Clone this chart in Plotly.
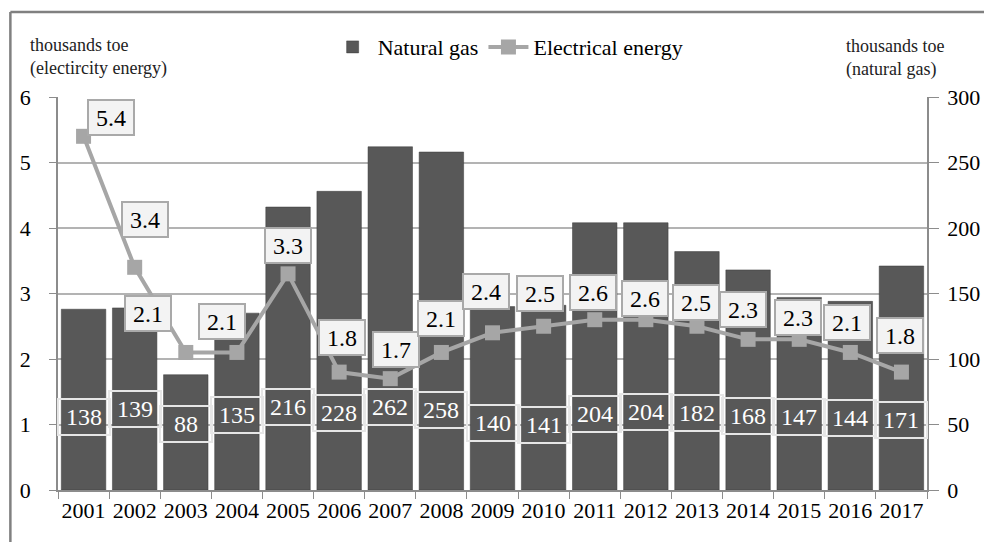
import plotly.graph_objects as go

years = [str(y) for y in range(2001, 2018)]
natural_gas = [138, 139, 88, 135, 216, 228, 262, 258, 140, 141, 204, 204, 182, 168, 147, 144, 171]
electrical = [5.4, 3.4, 2.1, 2.1, 3.3, 1.8, 1.7, 2.1, 2.4, 2.5, 2.6, 2.6, 2.5, 2.3, 2.3, 2.1, 1.8]

# label placement offsets (pixels) - style only
line_lbl_dx = [27, 10, -38, -15, 0, 3, 6, 0, -7, -4, -2, -1, -1, -5, -1, -3, -1]
line_lbl_dy = [19, 48, 39, 31, 28, 35, 29, 34, 41, 33, 27, 21, 24, 30, 22, 30, 37]
bar_lbl_dy = [-2, 6, -9, 0, 8, 2, 8, 5, -8, -10, 1, 3, 2, -1, -2, -3, -5]
BAR_LABEL_LEVEL = 57

FONT = "Liberation Serif"
GRAY = "#a6a6a6"
AXIS = "#8c8c8c"

fig = go.Figure()
fig.add_trace(go.Bar(
    x=years, y=natural_gas, name="Natural gas", yaxis="y",
    marker=dict(color="#585858", line=dict(color="#3a3a3a", width=0.5)),
))
fig.add_trace(go.Scatter(
    x=years, y=electrical, name="Electrical energy", yaxis="y2",
    mode="lines+markers",
    line=dict(color=GRAY, width=4),
    marker=dict(symbol="square", size=15, color=GRAY),
))

annotations = []
for i, v in enumerate(electrical):
    annotations.append(dict(
        x=i, y=v, xref="x", yref="y2", text=f"{v:.1f}",
        showarrow=False, xshift=line_lbl_dx[i], yshift=line_lbl_dy[i],
        font=dict(family=FONT, size=24, color="black"),
        bgcolor="#f3f3f3", bordercolor="#a9a9a9", borderwidth=2,
        width=42, height=31, borderpad=1,
    ))
for i, v in enumerate(natural_gas):
    annotations.append(dict(
        x=i, y=BAR_LABEL_LEVEL, xref="x", yref="y", text=str(v),
        showarrow=False, yshift=bar_lbl_dy[i],
        font=dict(family=FONT, size=24, color="white"),
        bgcolor="rgba(0,0,0,0)", bordercolor="#e6e6e6", borderwidth=2,
        width=48, height=32, borderpad=1,
    ))
annotations.append(dict(
    x=-0.034, y=1.102, xref="paper", yref="paper", xanchor="left", yanchor="middle",
    text="thousands toe<br>(electircity energy)", showarrow=False, align="left",
    font=dict(family=FONT, size=18, color="#222"),
))
annotations.append(dict(
    x=0.905, y=1.10, xref="paper", yref="paper", xanchor="left", yanchor="middle",
    text="thousands toe<br>(natural gas)", showarrow=False, align="left",
    font=dict(family=FONT, size=18, color="#222"),
))

shapes = [
    dict(type="line", xref="paper", yref="paper", x0=-0.0548, x1=-0.0548, y0=1.2163, y1=-0.2,
         line=dict(color="#808080", width=2.5)),
    dict(type="line", xref="paper", yref="paper", x0=-0.0548, x1=1.1, y0=1.2163, y1=1.2163,
         line=dict(color="#808080", width=2.5)),
]

fig.update_layout(
    width=984, height=534,
    margin=dict(l=49, r=59, t=89, b=52),
    paper_bgcolor="white", plot_bgcolor="white",
    font=dict(family=FONT, size=21, color="black"),
    bargap=0.13,
    showlegend=True,
    legend=dict(orientation="h", x=0.518, xanchor="center", y=1.127, yanchor="middle",
                font=dict(family=FONT, size=22, color="black"), bgcolor="rgba(0,0,0,0)",
                itemwidth=40, tracegroupgap=0),
    xaxis=dict(type="category", tickson="boundaries", ticks="outside", ticklen=7,
               tickcolor=AXIS, showline=True, linecolor=AXIS, linewidth=1.5,
               tickangle=0, range=[-0.5, 16.5],
               tickfont=dict(family=FONT, size=22, color="black"), showgrid=False),
    yaxis=dict(side="right", range=[0, 300], dtick=50, ticks="outside", ticklen=10,
               tickcolor=AXIS, showline=True, linecolor=AXIS, linewidth=1.5,
               showgrid=True, gridcolor="#b3b3b3", gridwidth=1.5, zeroline=False,
               tickfont=dict(family=FONT, size=22, color="black"), ticklabelstandoff=4),
    yaxis2=dict(side="left", overlaying="y", range=[0, 6], dtick=1, ticks="outside",
                ticklen=7, tickcolor=AXIS, showline=True, linecolor=AXIS, linewidth=1.5,
                showgrid=False, zeroline=False,
                tickfont=dict(family=FONT, size=22, color="black"), ticklabelstandoff=14),
    annotations=annotations,
    shapes=shapes,
)

fig.write_html("out.html")
